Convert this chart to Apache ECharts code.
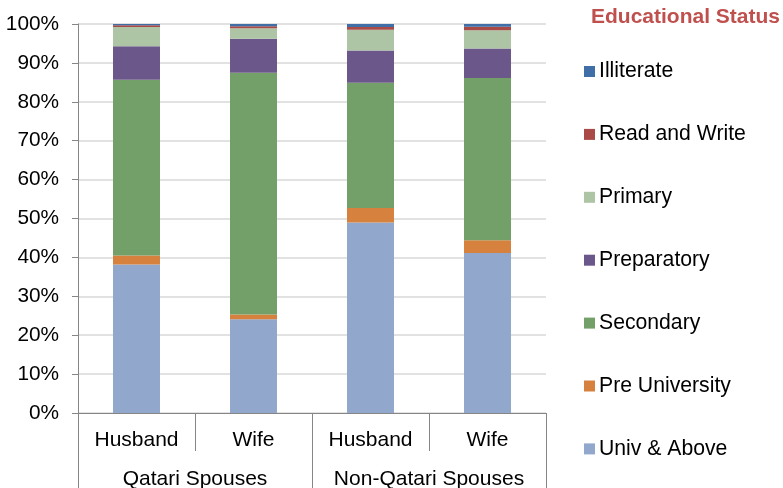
<!DOCTYPE html>
<html><head><meta charset="utf-8">
<script src="https://cdn.jsdelivr.net/npm/echarts@6/dist/echarts.min.js"></script>
<style>html,body{margin:0;padding:0;background:#fff}#c{width:783px;height:488px}</style>
</head><body><div id="c"></div>
<script>
const categories = ['Husband','Wife','Husband','Wife'];
const groups = ['Qatari Spouses','Non-Qatari Spouses'];
const univAbove = [38.2, 24.1, 49.0, 41.1];
const preUniversity = [2.3, 1.2, 3.7, 3.3];
const secondary = [45.2, 62.2, 32.2, 41.7];
const preparatory = [8.6, 8.7, 8.3, 7.6];
const primary = [4.9, 2.7, 5.3, 4.7];
const readWrite = [0.5, 0.5, 0.7, 0.9];
const illiterate = [0.3, 0.6, 0.8, 0.7];

const FONT = 'Liberation Sans, Arial, sans-serif';
const seriesDefs = [
  {name:'Univ & Above', data:univAbove, color:'#92A7CC'},
  {name:'Pre University', data:preUniversity, color:'#D6813E'},
  {name:'Secondary', data:secondary, color:'#72A068'},
  {name:'Preparatory', data:preparatory, color:'#6C578B'},
  {name:'Primary', data:primary, color:'#ADC5A5'},
  {name:'Read and Write', data:readWrite, color:'#A94A47'},
  {name:'Illiterate', data:illiterate, color:'#3F6FA6'}
];
const chart = echarts.init(document.getElementById('c'), null, {renderer:'canvas'});
chart.setOption({
  animation:false,
  textStyle:{fontFamily:FONT},
  title:{text:'Educational Status', left:591, top:7, padding:0,
    textStyle:{fontFamily:FONT, fontSize:21, fontWeight:'bold', color:'#C0504D'}},
  legend:{orient:'vertical', left:584, top:61, padding:0, itemWidth:11, itemHeight:11, itemGap:41.9,
    icon:'rect', textStyle:{fontFamily:FONT, fontSize:21.2, color:'#000', padding:[0,0,0,-1]},
    data:seriesDefs.map(s=>s.name).reverse()},
  grid:{left:78, right:237, top:24, bottom:75, containLabel:false, outerBoundsMode:'none'},
  xAxis:[
    {type:'category', data:categories, position:'bottom',
      axisLine:{show:true, lineStyle:{color:'#868686', width:1}},
      axisTick:{show:true, length:38, interval:0, lineStyle:{color:'#868686'}},
      axisLabel:{margin:16.5, fontSize:21, color:'#000', fontFamily:FONT, interval:0}},
    {type:'category', data:groups, position:'bottom',
      axisLine:{show:false},
      axisTick:{show:true, length:76, interval:0, lineStyle:{color:'#868686'}},
      axisLabel:{margin:55.5, fontSize:21, color:'#000', fontFamily:FONT, interval:0}}
  ],
  yAxis:{type:'value', min:0, max:100, interval:10,
    axisLine:{show:true, lineStyle:{color:'#868686'}},
    axisTick:{show:true, length:6, lineStyle:{color:'#868686'}},
    splitLine:{lineStyle:{color:'#D9D9D9', width:1.5}},
    axisLabel:{formatter:'{value}%', margin:19, fontSize:20.8, color:'#000', fontFamily:FONT}},
  series:seriesDefs.map(s=>({
    name:s.name, type:'bar', stack:'total', data:s.data, xAxisIndex:0,
    barWidth:47, itemStyle:{color:s.color}
  }))
});
</script></body></html>
